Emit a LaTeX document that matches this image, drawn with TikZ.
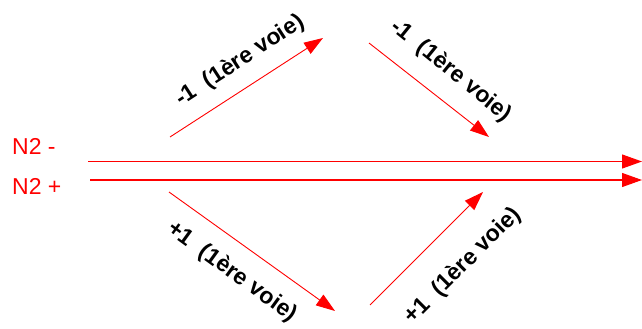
\documentclass[tikz,border=0pt]{standalone}
\usepackage{fontspec}
\setmainfont{Liberation Sans}
\usetikzlibrary{arrows.meta}
\begin{document}
\begin{tikzpicture}[x=1pt,y=-1pt,
  arr/.style={draw=red, line width=0.9pt, -{Triangle[length=19pt,width=13pt]}},
  longarr/.style={draw=red, line width=1.1pt, -{Triangle[length=20pt,width=14pt]}},
  lab/.style={font=\fontsize{23}{26}\selectfont\bfseries, text=black, inner sep=0pt},
  nlab/.style={font=\fontsize{23}{26}\selectfont, text=red, inner sep=0pt, anchor=west}]
\useasboundingbox (0,0) rectangle (642,329);
% endpoints
\coordinate (a1) at (170,137); \coordinate (a2) at (323,38);
\coordinate (b1) at (369,43);  \coordinate (b2) at (489,137);
\coordinate (c1) at (169,192); \coordinate (c2) at (335,311);
\coordinate (d1) at (370,305); \coordinate (d2) at (483,192);
\coordinate (m1) at (88,161.5); \coordinate (m2) at (642,161.5);
\coordinate (p1) at (90,180);   \coordinate (p2) at (642,180);
% left labels
\node[nlab] (nm) at (12,146) {N2 -};
\node[nlab] (np) at (12,186) {N2 +};
% long arrows
\draw[longarr] (m1) -- (m2);
\draw[longarr] (p1) -- (p2);
% diagonal arrows
\draw[arr] (a1) -- (a2);
\draw[arr] (b1) -- (b2);
\draw[arr] (c1) -- (c2);
\draw[arr] (d1) -- (d2);
% labels
\node[lab, rotate=33] (la) at (240,61) {-1\ \ (1ère voie)};
\node[lab, rotate=-39] (lb) at (451,71) {-1\ \ (1ère voie)};
\node[lab, rotate=-36] (lc) at (232,272) {+1\ \ (1ère voie)};
\node[lab, rotate=45] (ld) at (463,266) {+1\ \ (1ère voie)};
\end{tikzpicture}
\end{document}
